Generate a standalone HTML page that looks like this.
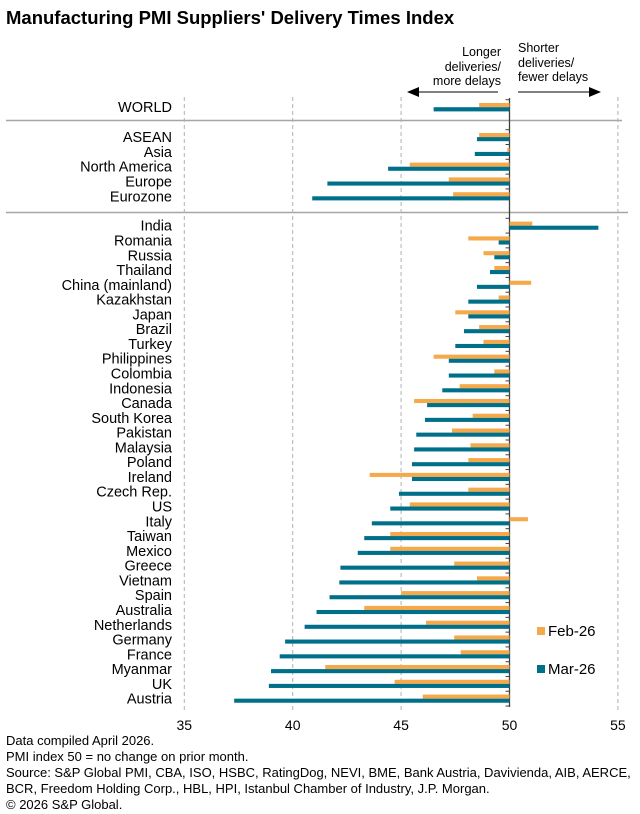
<!DOCTYPE html>
<html><head><meta charset="utf-8"><style>
body{margin:0;background:#fff;font-family:"Liberation Sans",Arial,sans-serif;}
svg{display:block}
</style></head><body>
<svg id="chart" width="640" height="814" xmlns="http://www.w3.org/2000/svg" font-family="Liberation Sans, Arial, sans-serif">
<text x="6" y="24" font-size="18.5" font-weight="bold" fill="#000">Manufacturing PMI Suppliers' Delivery Times Index</text>
<g font-size="12.5" fill="#000" text-anchor="end">
<text x="501" y="56">Longer</text><text x="501" y="71">deliveries/</text><text x="501" y="85">more delays</text></g>
<g font-size="12.5" fill="#000">
<text x="518" y="52">Shorter</text><text x="518" y="67">deliveries/</text><text x="518" y="81">fewer delays</text></g>
<line x1="418" y1="92" x2="498" y2="92" stroke="#000" stroke-width="1"/>
<polygon points="407,92 419,87 419,97" fill="#000"/>
<line x1="518" y1="92" x2="590" y2="92" stroke="#000" stroke-width="1"/>
<polygon points="601,92 589,87 589,97" fill="#000"/>
<line x1="6" y1="120.5" x2="622" y2="120.5" stroke="#a6a6a6" stroke-width="1.5"/>
<line x1="6" y1="212.5" x2="628" y2="212.5" stroke="#a6a6a6" stroke-width="1.5"/>
<g id="grid"></g><g id="bars"></g><g id="labels"></g>
<g>
<rect x="537" y="627" width="8" height="8" fill="#f5a94a"/>
<text x="548" y="636" font-size="15">Feb-26</text>
<rect x="537" y="665" width="8" height="8" fill="#006f8a"/>
<text x="548" y="674" font-size="15">Mar-26</text>
</g>
<g font-size="13" fill="#000">
<text x="6" y="745">Data compiled April 2026.</text>
<text x="6" y="761">PMI index 50 = no change on prior month.</text>
<text x="6" y="777">Source: S&amp;P Global PMI, CBA, ISO, HSBC, RatingDog, NEVI, BME, Bank Austria, Davivienda, AIB, AERCE,</text>
<text x="6" y="793">BCR, Freedom Holding Corp., HBL, HPI, Istanbul Chamber of Industry, J.P. Morgan.</text>
<text x="6" y="809">© 2026 S&amp;P Global.</text>
</g>
</svg>
<script>
const categories=["WORLD","ASEAN","Asia","North America","Europe","Eurozone","India","Romania","Russia","Thailand","China (mainland)","Kazakhstan","Japan","Brazil","Turkey","Philippines","Colombia","Indonesia","Canada","South Korea","Pakistan","Malaysia","Poland","Ireland","Czech Rep.","US","Italy","Taiwan","Mexico","Greece","Vietnam","Spain","Australia","Netherlands","Germany","France","Myanmar","UK","Austria"];
const feb26=[48.6,48.6,49.9,45.4,47.2,47.4,51.05,48.1,48.8,49.3,51.0,49.5,47.5,48.6,48.8,46.5,49.3,47.7,45.6,48.3,47.35,48.2,48.1,43.55,48.1,45.4,50.85,44.5,44.5,47.45,48.5,45.0,43.3,46.15,47.45,47.75,41.5,44.7,46.0];
const mar26=[46.5,48.5,48.4,44.4,41.6,40.9,54.1,49.5,49.3,49.1,48.5,48.1,48.1,47.9,47.5,47.2,47.2,46.9,46.2,46.1,45.7,45.6,45.5,45.5,44.9,44.5,43.65,43.3,43.0,42.2,42.15,41.7,41.1,40.55,39.65,39.4,39.0,38.9,37.3];
const xTicks=[35,40,45,50,55];
const NS="http://www.w3.org/2000/svg";
function x(v){return 509.5+(v-50)*21.68;}
function band(i){
  if(i===0) return [99.7,15];
  if(i<6) return [129.7+(i-1)*14.8,14.8];
  return [218.3+(i-6)*14.78,14.78];
}
function mk(tag,attrs,parent){const e=document.createElementNS(NS,tag);for(const k in attrs)e.setAttribute(k,attrs[k]);parent.appendChild(e);return e;}
const grid=document.getElementById('grid'),bars=document.getElementById('bars'),labels=document.getElementById('labels');
xTicks.forEach(t=>{
  let l;
  if(t===50){l=mk('line',{x1:x(t),x2:x(t),y1:98,y2:707,stroke:'#404040','stroke-width':1.3},grid);}
  else{l=mk('line',{x1:x(t),x2:x(t),y1:97,y2:710,stroke:'#b0b0b0','stroke-width':1,'stroke-dasharray':'4,3'},grid);}
  
  
  const tx=mk('text',{x:x(t),y:730,'font-size':14,'text-anchor':'middle',fill:'#000'},labels);
  tx.textContent=t;
  
  
});
categories.forEach((c,i)=>{
  const [top,h]=band(i);
  const tk=mk('line',{x1:x(50)-4,x2:x(50),y1:top,y2:top,stroke:'#404040','stroke-width':1},grid);
  
  
  const pad=3.3,bh=(h-2*pad)/2;
  const f=feb26[i],m=mar26[i];
  const rf=mk('rect',{x:Math.min(x(f),x(50)),y:top+pad,width:Math.abs(x(f)-x(50)),height:bh,fill:'#f5a94a'},bars);
  
  
  const rm=mk('rect',{x:Math.min(x(m),x(50)),y:top+pad+bh,width:Math.abs(x(m)-x(50)),height:bh,fill:'#006f8a'},bars);
  
  
  const t=mk('text',{x:172,y:top+h/2+5,'font-size':14.5,'text-anchor':'end',fill:'#000'},labels);
  t.textContent=c;
  
  
});
const last=band(categories.length-1);
const tk=mk('line',{x1:x(50)-4,x2:x(50),y1:last[0]+last[1],y2:last[0]+last[1],stroke:'#404040'},grid);


</script>
</body></html>
